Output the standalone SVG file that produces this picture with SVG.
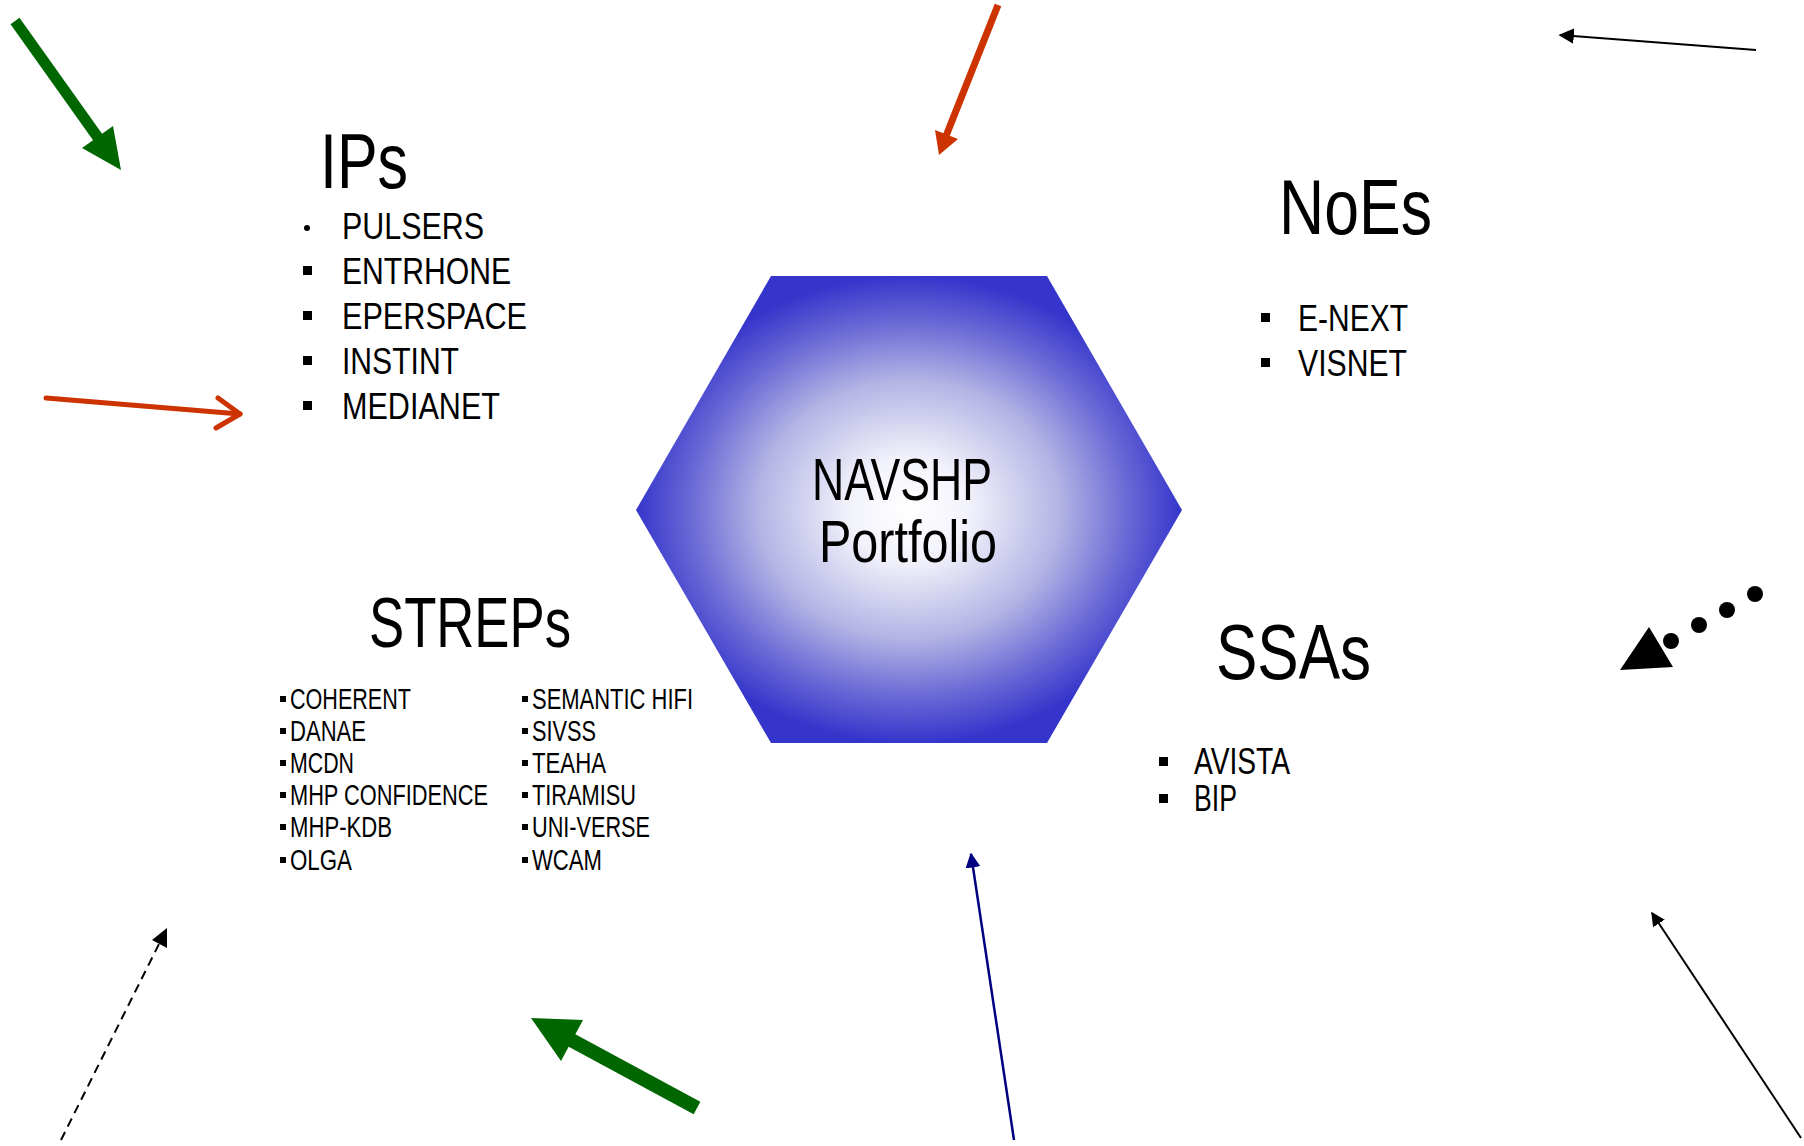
<svg xmlns="http://www.w3.org/2000/svg" width="1804" height="1146" viewBox="0 0 1804 1146">
<style>
  text { font-family: "Liberation Sans", Arial, sans-serif; fill: #000; }
  .title { font-size: 78px; }
  .item { font-size: 37px; }
  .small { font-size: 29px; }
  .center { font-size: 60px; }
</style>
<defs>
  <radialGradient id="hexgrad" cx="0.5" cy="0.5" r="0.5">
    <stop offset="0" stop-color="#ffffff"/>
    <stop offset="0.22" stop-color="#f2f2fb"/>
    <stop offset="0.55" stop-color="#b4b4e5"/>
    <stop offset="0.8" stop-color="#6a6ad6"/>
    <stop offset="1" stop-color="#3535cc"/>
  </radialGradient>
  <marker id="hBlack" viewBox="0 0 10 10" refX="9" refY="5" markerWidth="7" markerHeight="7" orient="auto" markerUnits="strokeWidth">
    <path d="M0,0 L10,5 L0,10 z" fill="#000"/>
  </marker>
  <marker id="hNavy" viewBox="0 0 10 10" refX="9" refY="5" markerWidth="6" markerHeight="6" orient="auto" markerUnits="strokeWidth">
    <path d="M0,0 L10,5 L0,10 z" fill="#000080"/>
  </marker>
</defs>
<rect width="1804" height="1146" fill="#ffffff"/>

<g id="hexagon">
  <polygon points="771,276 1047,276 1182,510 1047,743 771,743 636,510" fill="url(#hexgrad)"/>
  <text class="center" x="812" y="500" textLength="180" lengthAdjust="spacingAndGlyphs">NAVSHP</text>
  <text class="center" x="819" y="562" textLength="178" lengthAdjust="spacingAndGlyphs">Portfolio</text>
</g>

<g id="ips">
  <text class="title" x="320" y="188" textLength="88" lengthAdjust="spacingAndGlyphs">IPs</text>
  <circle cx="307" cy="228" r="3" fill="#000"/>
  <rect x="303" y="266" width="9" height="9"/>
  <rect x="303" y="311" width="9" height="9"/>
  <rect x="303" y="356" width="9" height="9"/>
  <rect x="303" y="401" width="9" height="9"/>
  <text class="item" x="342" y="239" textLength="142" lengthAdjust="spacingAndGlyphs">PULSERS</text>
  <text class="item" x="342" y="284" textLength="169" lengthAdjust="spacingAndGlyphs">ENTRHONE</text>
  <text class="item" x="342" y="329" textLength="185" lengthAdjust="spacingAndGlyphs">EPERSPACE</text>
  <text class="item" x="342" y="374" textLength="117" lengthAdjust="spacingAndGlyphs">INSTINT</text>
  <text class="item" x="342" y="419" textLength="158" lengthAdjust="spacingAndGlyphs">MEDIANET</text>
</g>

<g id="noes">
  <text class="title" x="1279" y="234" textLength="153" lengthAdjust="spacingAndGlyphs">NoEs</text>
  <rect x="1261" y="313" width="9" height="9"/>
  <rect x="1261" y="358" width="9" height="9"/>
  <text class="item" x="1298" y="331" textLength="110" lengthAdjust="spacingAndGlyphs">E-NEXT</text>
  <text class="item" x="1298" y="376" textLength="109" lengthAdjust="spacingAndGlyphs">VISNET</text>
</g>

<g id="streps">
  <text class="title" x="369" y="647" style="font-size:70px" textLength="202" lengthAdjust="spacingAndGlyphs">STREPs</text>
  <rect x="280" y="696" width="6" height="6"/>
  <rect x="280" y="728" width="6" height="6"/>
  <rect x="280" y="760" width="6" height="6"/>
  <rect x="280" y="792" width="6" height="6"/>
  <rect x="280" y="824" width="6" height="6"/>
  <rect x="280" y="857" width="6" height="6"/>
  <rect x="522" y="696" width="6" height="6"/>
  <rect x="522" y="728" width="6" height="6"/>
  <rect x="522" y="760" width="6" height="6"/>
  <rect x="522" y="792" width="6" height="6"/>
  <rect x="522" y="824" width="6" height="6"/>
  <rect x="522" y="857" width="6" height="6"/>
  <text class="small" x="290" y="709" textLength="121" lengthAdjust="spacingAndGlyphs">COHERENT</text>
  <text class="small" x="290" y="741" textLength="76" lengthAdjust="spacingAndGlyphs">DANAE</text>
  <text class="small" x="290" y="773" textLength="64" lengthAdjust="spacingAndGlyphs">MCDN</text>
  <text class="small" x="290" y="805" textLength="198" lengthAdjust="spacingAndGlyphs">MHP CONFIDENCE</text>
  <text class="small" x="290" y="837" textLength="102" lengthAdjust="spacingAndGlyphs">MHP-KDB</text>
  <text class="small" x="290" y="870" textLength="62" lengthAdjust="spacingAndGlyphs">OLGA</text>
  <text class="small" x="532" y="709" textLength="161" lengthAdjust="spacingAndGlyphs">SEMANTIC HIFI</text>
  <text class="small" x="532" y="741" textLength="64" lengthAdjust="spacingAndGlyphs">SIVSS</text>
  <text class="small" x="532" y="773" textLength="74" lengthAdjust="spacingAndGlyphs">TEAHA</text>
  <text class="small" x="532" y="805" textLength="104" lengthAdjust="spacingAndGlyphs">TIRAMISU</text>
  <text class="small" x="532" y="837" textLength="118" lengthAdjust="spacingAndGlyphs">UNI-VERSE</text>
  <text class="small" x="532" y="870" textLength="70" lengthAdjust="spacingAndGlyphs">WCAM</text>
</g>

<g id="ssas">
  <text class="title" x="1216" y="679" textLength="155" lengthAdjust="spacingAndGlyphs">SSAs</text>
  <rect x="1159" y="757" width="9" height="9"/>
  <rect x="1159" y="794" width="9" height="9"/>
  <text class="item" x="1194" y="774" textLength="96" lengthAdjust="spacingAndGlyphs">AVISTA</text>
  <text class="item" x="1194" y="811" textLength="43" lengthAdjust="spacingAndGlyphs">BIP</text>
</g>

<g id="connectors">
  <!-- top-left green -->
  <line x1="15" y1="21" x2="99" y2="139" stroke="#006600" stroke-width="11"/>
  <polygon points="121,170 82,148 113,126" fill="#006600"/>
  <!-- top red -->
  <line x1="998" y1="5" x2="946" y2="136" stroke="#cc3300" stroke-width="7"/>
  <polygon points="939,155 935,130 958,139" fill="#cc3300"/>
  <!-- left red open -->
  <line x1="46" y1="398" x2="240" y2="414" stroke="#cc3300" stroke-width="5" stroke-linecap="round"/>
  <polyline points="218,398 240,414 216,428" fill="none" stroke="#cc3300" stroke-width="5" stroke-linecap="round" stroke-linejoin="round"/>
  <!-- top-right black -->
  <line x1="1756" y1="50" x2="1560" y2="35" stroke="#000" stroke-width="2.2" marker-end="url(#hBlack)"/>
  <!-- dotted right -->
  <circle cx="1755" cy="594" r="8"/>
  <circle cx="1727" cy="610" r="8"/>
  <circle cx="1699" cy="625" r="8"/>
  <circle cx="1671" cy="641" r="8"/>
  <polygon points="1649,627 1620,670 1673,667"/>
  <!-- bottom navy -->
  <line x1="1014" y1="1140" x2="971" y2="854" stroke="#000080" stroke-width="2.5" marker-end="url(#hNavy)"/>
  <!-- bottom right black -->
  <line x1="1801" y1="1138" x2="1652" y2="913" stroke="#000" stroke-width="2" marker-end="url(#hBlack)"/>
  <!-- bottom left dashed -->
  <line x1="61" y1="1140" x2="164" y2="934" stroke="#000" stroke-width="2" stroke-dasharray="9,6"/>
  <polygon points="167,928 152,940 167,948"/>
  <!-- bottom green -->
  <line x1="697" y1="1108" x2="560" y2="1034" stroke="#006600" stroke-width="14"/>
  <polygon points="531,1018 583,1020 561,1061" fill="#006600"/>
</g>
</svg>
